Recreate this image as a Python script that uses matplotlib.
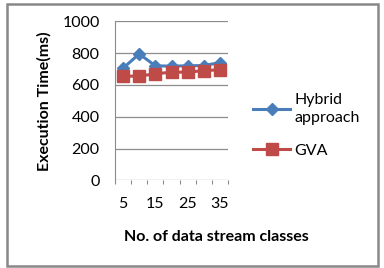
import matplotlib
matplotlib.use("Agg")
import matplotlib.pyplot as plt
from matplotlib.patches import Rectangle

categories = [5, 10, 15, 20, 25, 30, 35]
hybrid = [705, 795, 720, 718, 720, 722, 740]
gva = [655, 655, 670, 680, 680, 690, 695]
yticks = [0, 200, 400, 600, 800, 1000]
xlabels = ["5", "15", "25", "35"]

plt.rcParams['font.family'] = ['Lato', 'DejaVu Sans']

W, H = 384, 268
fig = plt.figure(figsize=(W/100, H/100), dpi=100)
fig.patches.append(Rectangle((7/W, 2/H), 371/W, 262/H, transform=fig.transFigure,
                             fill=False, edgecolor='#888888', linewidth=1.8))

ax = fig.add_axes([115/W, 1-180.3/H, 113/W, 159/H])
x = list(range(len(categories)))
ax.plot(x, hybrid, color='#4a7ebb', lw=2.2, marker='D', markersize=6, label='Hybrid\napproach', zorder=3)
ax.plot(x, gva, color='#be4b48', lw=2.2, marker='s', markersize=8, label='GVA', zorder=4)

ax.set_xlim(-0.5, len(categories) - 0.5)
ax.set_ylim(0, 1000)
ax.set_yticks(yticks)
ax.set_yticklabels([str(v) for v in yticks], fontsize=11.5)
ax.grid(axis='y', color='#8c8c8c', lw=0.9)
ax.set_axisbelow(True)

ax.set_xticks([i - 0.5 for i in range(len(categories) + 1)])
ax.set_xticklabels([])
ax.tick_params(axis='x', which='major', length=3, color='#8c8c8c', direction='out')
ax.set_xticks([0, 2, 4, 6], minor=True)
ax.set_xticklabels(xlabels, minor=True, fontsize=11.5)
ax.tick_params(axis='x', which='minor', length=0, pad=12)
ax.tick_params(axis='y', length=0, pad=11)

for s in ['top', 'right', 'bottom']:
    ax.spines[s].set_visible(False)
ax.spines['left'].set_color('#8c8c8c')

ax.set_ylabel('Execution Time(ms)', fontsize=11.5, fontweight='bold', labelpad=8)
ax.set_xlabel('No. of data stream classes', fontsize=11.5, fontweight='bold')
ax.xaxis.set_label_coords((216 - 115) / 113, -(237 - 180.3) / 159)
ax.xaxis.label.set_va('center')

leg = fig.legend(loc='upper left', bbox_to_anchor=(239/W, 1-79/H), frameon=False, fontsize=11.5,
                 handlelength=2.3, labelspacing=1.15, handletextpad=0.25)
leg.get_texts()[0].set_linespacing(1.35)

fig.savefig('out.png', dpi=100)
